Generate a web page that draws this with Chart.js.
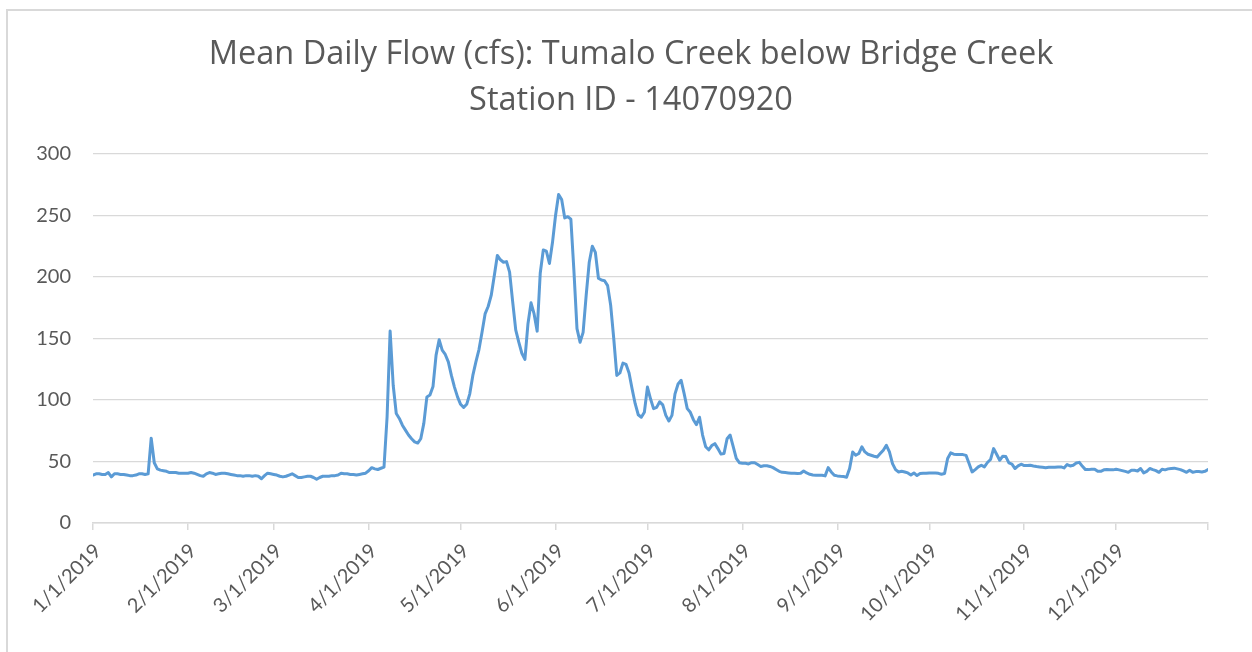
<!DOCTYPE html>
<html>
<head>
<meta charset="utf-8">
<script src="https://cdn.jsdelivr.net/npm/chart.js@4.4.1/dist/chart.umd.min.js"></script>
<style>
  html, body { margin: 0; padding: 0; background: #ffffff; overflow: hidden; }
  #frame { position: absolute; left: 6px; top: 9px; width: 1400px; height: 800px; border: 2px solid #d9d9d9; box-sizing: border-box; }
  #c { position: absolute; left: 0; top: 0; }
</style>
</head>
<body>
<div id="frame"></div>
<canvas id="c" width="1262" height="652"></canvas>
<script>
// ---- Data (mean daily flow, cfs, 2019) ----
const chartTitle = ['Mean Daily Flow (cfs): Tumalo Creek below Bridge Creek', 'Station ID - 14070920'];
const tickLabels = ['1/1/2019','2/1/2019','3/1/2019','4/1/2019','5/1/2019','6/1/2019','7/1/2019','8/1/2019','9/1/2019','10/1/2019','11/1/2019','12/1/2019'];

const flowJan = [39,40,40,39.5,39.5,41,37.5,40,40,39.5,39.5,39,38.5,38.5,39,40,40,39.5,40,69,49,44,43,42.5,42,41,41,41,40.5,40.5,40.5];
const flowFeb = [40.5,41,40.5,39.5,38.5,38,40,41,40.5,39.5,40,40.5,40.5,40,39.5,39,38.5,38.5,38,38.5,38.5,38,38.5,38,36,38.5,40.5,40];
const flowMar = [39.5,39,38,37.5,38,39,40,38.5,37,37,37.5,38,38,37,35.5,37,38,38,38,38.5,38.5,39,40.5,40,40,39.5,39.5,39,39.5,40,40.5];
const flowApr = [42.5,45,44,43.5,44.5,45.5,86,156,112,89,85,79.5,75.5,71.5,68.5,66,65,68.5,81,102.5,104,111,136.5,149,140.5,137,131,120,110.5,102.5];
const flowMay = [96.5,94,96.5,105,120,131,141,155,170,176,185,201,217.5,214,212,212.5,204,180,157,147,138,133,162,179,170,156,203,222,221,211,228];
const flowJun = [250,267,263,248,249,247,205,158,147,155,185,212,225,220,199,197.5,197,193,177,150,120,122,130,129,122,109,97,88,86,90];
const flowJul = [110.5,101,93,94,98.5,96,87.5,83,87.5,105,113,116,105,93,90,84,80,86,71.5,62,59.5,63,64.5,60.5,56,56.5,68.5,71.5,62,52.5,49];
const flowAug = [48.5,48.5,48,49,49,47.5,46,46.5,46.5,46,45,43.5,42,41.2,41,40.7,40.4,40.4,40.2,40.4,42.3,40.7,39.6,39,38.8,38.8,38.8,38.3,45,41.5,38.8];
const flowSep = [38.3,38,37.8,37.2,44.3,57.8,55.1,56.5,61.9,57.8,55.9,55.1,54.3,53.7,56.5,59.2,63.2,57.8,48.3,43.4,41.5,42,41.5,40.7,39,40.7,38.6,40.2,40.4,40.4];
const flowOct = [40.7,40.7,40.7,40.4,39.6,40.2,52.4,57,55.9,55.6,55.6,55.6,55,48.3,41.5,43.4,45.6,47,45.6,49.2,51.6,60.5,55.9,51,54.3,54,48.8,47.8,44.3,46.4,47.8];
const flowNov = [46.7,46.7,47,46.4,45.9,45.6,45.3,45,45.3,45.3,45.3,45.6,45.6,44.8,47.5,46.4,47,48.8,49.3,46.1,43.4,43.4,43.7,43.7,42,42,43.2,43.4,43.2,43.2];
const flowDec = [43.7,43.2,42.6,42,41.2,42.9,42.9,42.3,44.3,40.7,42,44.3,43.4,42.6,41.2,43.7,43.2,44,44.3,44.6,44,43.4,42.3,41.2,42.9,41.2,41.8,41.8,41.5,42,43.4];

const months = [flowJan, flowFeb, flowMar, flowApr, flowMay, flowJun, flowJul, flowAug, flowSep, flowOct, flowNov, flowDec];
const flow = months.flat();
const lastIdx = flow.length - 1;

// day index of each month start (from the month array lengths)
const monthStarts = [];
let acc = 0;
months.forEach(m => { monthStarts.push(acc); acc += m.length; });
const tickPositions = monthStarts.concat([lastIdx]);

const FONT = 'Lato, "Open Sans", "Liberation Sans", sans-serif';
const TITLE_FONT = '"Open Sans", Lato, sans-serif';
const TXT = '#595959';
const GRID = '#d9d9d9';

new Chart(document.getElementById('c'), {
  type: 'line',
  data: {
    datasets: [{
      data: flow.map((v, i) => ({ x: i, y: v })),
      borderColor: '#5b9bd5',
      borderWidth: 3,
      pointRadius: 0,
      tension: 0,
      fill: false,
      borderJoinStyle: 'round',
      borderCapStyle: 'round'
    }]
  },
  options: {
    responsive: false,
    animation: false,
    layout: { padding: 0 },
    plugins: {
      legend: { display: false },
      tooltip: { enabled: false },
      title: {
        display: true,
        text: chartTitle,
        color: TXT,
        font: { family: TITLE_FONT, size: 32.5, weight: 'normal', lineHeight: 1.44 },
        padding: { top: 31, bottom: 29.4 }
      }
    },
    scales: {
      x: {
        type: 'linear',
        min: 0,
        max: lastIdx,
        afterBuildTicks: s => { s.ticks = tickPositions.map(v => ({ value: v })); },
        afterFit: s => { s.height = 129; },
        ticks: {
          autoSkip: false,
          minRotation: 45,
          maxRotation: 45,
          padding: 9,
          labelOffset: 5,
          color: TXT,
          font: { family: FONT, size: 20 },
          callback: v => { const k = monthStarts.indexOf(v); return k >= 0 ? tickLabels[k] : ''; }
        },
        grid: { drawOnChartArea: false, drawTicks: true, tickLength: 7, color: GRID, lineWidth: 1.5 },
        border: { display: true, color: GRID, width: 1.5 }
      },
      y: {
        min: 0,
        max: 300,
        afterFit: s => { s.width = 93; },
        ticks: { stepSize: 50, padding: 22, color: TXT, font: { family: FONT, size: 20 } },
        grid: { color: GRID, drawTicks: false, lineWidth: 1.3 },
        border: { display: false }
      },
      spacer: {
        type: 'linear',
        position: 'right',
        display: true,
        afterFit: s => { s.width = 54; },
        ticks: { display: false },
        grid: { display: false, drawTicks: false },
        border: { display: false }
      }
    }
  }
});
</script>
</body>
</html>
